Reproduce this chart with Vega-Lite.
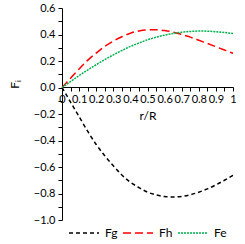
{
  "$schema": "https://vega.github.io/schema/vega-lite/v6.json",
  "autosize": "none",
  "width": 171,
  "height": 212,
  "padding": {"left": 62, "top": 8, "right": 12, "bottom": 24},
  "background": "white",
  "config": {
    "view": {"stroke": null},
    "font": "Lato",
    "axis": {"labelFont": "Lato", "titleFont": "Lato", "labelColor": "#000", "titleColor": "#000", "domainColor": "#000", "tickColor": "#000", "grid": false, "labelFontSize": 11, "titleFontSize": 12, "titleFontWeight": "normal"}
  },
  "data": {"values": [
    {"r": 0, "s": "Fg", "F": 0}, {"r": 0.05, "s": "Fg", "F": -0.11}, {"r": 0.1, "s": "Fg", "F": -0.22}, {"r": 0.15, "s": "Fg", "F": -0.33}, {"r": 0.2, "s": "Fg", "F": -0.43}, {"r": 0.25, "s": "Fg", "F": -0.515}, {"r": 0.3, "s": "Fg", "F": -0.59}, {"r": 0.35, "s": "Fg", "F": -0.66}, {"r": 0.4, "s": "Fg", "F": -0.715}, {"r": 0.45, "s": "Fg", "F": -0.755}, {"r": 0.5, "s": "Fg", "F": -0.79}, {"r": 0.55, "s": "Fg", "F": -0.81}, {"r": 0.6, "s": "Fg", "F": -0.823}, {"r": 0.65, "s": "Fg", "F": -0.826}, {"r": 0.7, "s": "Fg", "F": -0.822}, {"r": 0.75, "s": "Fg", "F": -0.81}, {"r": 0.8, "s": "Fg", "F": -0.79}, {"r": 0.85, "s": "Fg", "F": -0.765}, {"r": 0.9, "s": "Fg", "F": -0.735}, {"r": 0.95, "s": "Fg", "F": -0.7}, {"r": 1, "s": "Fg", "F": -0.662},
    {"r": 0, "s": "Fh", "F": 0}, {"r": 0.05, "s": "Fh", "F": 0.07}, {"r": 0.1, "s": "Fh", "F": 0.14}, {"r": 0.15, "s": "Fh", "F": 0.205}, {"r": 0.2, "s": "Fh", "F": 0.26}, {"r": 0.25, "s": "Fh", "F": 0.31}, {"r": 0.3, "s": "Fh", "F": 0.35}, {"r": 0.35, "s": "Fh", "F": 0.383}, {"r": 0.4, "s": "Fh", "F": 0.41}, {"r": 0.45, "s": "Fh", "F": 0.427}, {"r": 0.5, "s": "Fh", "F": 0.435}, {"r": 0.55, "s": "Fh", "F": 0.436}, {"r": 0.6, "s": "Fh", "F": 0.43}, {"r": 0.65, "s": "Fh", "F": 0.418}, {"r": 0.7, "s": "Fh", "F": 0.4}, {"r": 0.75, "s": "Fh", "F": 0.38}, {"r": 0.8, "s": "Fh", "F": 0.357}, {"r": 0.85, "s": "Fh", "F": 0.333}, {"r": 0.9, "s": "Fh", "F": 0.308}, {"r": 0.95, "s": "Fh", "F": 0.283}, {"r": 1, "s": "Fh", "F": 0.258},
    {"r": 0, "s": "Fe", "F": 0}, {"r": 0.05, "s": "Fe", "F": 0.045}, {"r": 0.1, "s": "Fe", "F": 0.09}, {"r": 0.15, "s": "Fe", "F": 0.132}, {"r": 0.2, "s": "Fe", "F": 0.172}, {"r": 0.25, "s": "Fe", "F": 0.21}, {"r": 0.3, "s": "Fe", "F": 0.246}, {"r": 0.35, "s": "Fe", "F": 0.279}, {"r": 0.4, "s": "Fe", "F": 0.31}, {"r": 0.45, "s": "Fe", "F": 0.336}, {"r": 0.5, "s": "Fe", "F": 0.36}, {"r": 0.55, "s": "Fe", "F": 0.379}, {"r": 0.6, "s": "Fe", "F": 0.395}, {"r": 0.65, "s": "Fe", "F": 0.408}, {"r": 0.7, "s": "Fe", "F": 0.417}, {"r": 0.75, "s": "Fe", "F": 0.423}, {"r": 0.8, "s": "Fe", "F": 0.426}, {"r": 0.85, "s": "Fe", "F": 0.425}, {"r": 0.9, "s": "Fe", "F": 0.421}, {"r": 0.95, "s": "Fe", "F": 0.415}, {"r": 1, "s": "Fe", "F": 0.407}
  ]},
  "mark": {"type": "line", "strokeWidth": 1.5, "interpolate": "monotone"},
  "encoding": {
    "x": {"field": "r", "type": "quantitative", "scale": {"domain": [0, 1], "nice": false},
      "axis": {"title": "r/R", "offset": -133, "values": [0,0.05,0.1,0.15,0.2,0.25,0.3,0.35,0.4,0.45,0.5,0.55,0.6,0.65,0.7,0.75,0.8,0.85,0.9,0.95,1], "labelExpr": "round(datum.value*20)%2==0 ? format(datum.value, '~g') : ''", "labelOverlap": false, "labelFlush": false, "tickSize": 4, "labelPadding": 2, "titlePadding": 6}},
    "y": {"field": "F", "type": "quantitative", "scale": {"domain": [-1, 0.6], "nice": false, "zero": false},
      "axis": {"title": "Fᵢ", "titleY": 76, "values": [-1,-0.9,-0.8,-0.7,-0.6,-0.5,-0.4,-0.3,-0.2,-0.1,0,0.1,0.2,0.3,0.4,0.5,0.6], "labelExpr": "round(datum.value*10)%2==0 ? format(datum.value, '.1f') : ''", "labelOverlap": false, "labelFlush": false, "tickSize": 4, "labelPadding": 3, "titlePadding": 12}},
    "color": {"field": "s", "type": "nominal", "title": null, "scale": {"domain": ["Fg", "Fh", "Fe"], "range": ["#000000", "#FF0000", "#00B050"]},
      "legend": {"orient": "none", "legendX": 6, "legendY": 209, "direction": "horizontal", "symbolType": "stroke", "symbolSize": 900, "symbolStrokeWidth": 1.5, "labelFont": "Lato", "labelFontSize": 12, "labelColor": "#000", "columnPadding": 2, "labelOffset": 5}},
    "strokeDash": {"field": "s", "type": "nominal", "title": null, "scale": {"domain": ["Fg", "Fh", "Fe"], "range": [[4, 3], [8, 4], [2, 1]]}}
  }
}
